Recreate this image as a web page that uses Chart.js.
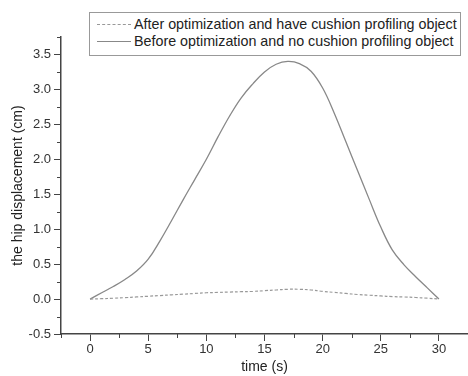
<!DOCTYPE html>
<html>
<head>
<meta charset="utf-8">
<script src="https://cdn.jsdelivr.net/npm/chart.js@4/dist/chart.umd.min.js"></script>
<style>
  html, body { margin: 0; padding: 0; background: #fff; }
  #wrap { position: relative; width: 468px; height: 376px; }
  #legend {
    position: absolute; left: 89px; top: 12px; width: 370px; height: 42px;
    border: 1px solid #999; background: #fff;
    font-family: "Liberation Sans", Arial, sans-serif; font-size: 14.3px; color: #222;
  }
  #legend .row { position: absolute; left: 0; height: 17px; line-height: 17px; white-space: nowrap; }
  #legend .sample { position: absolute; left: 7px; top: 8px; width: 34px; height: 0; }
  #legend .label { position: absolute; left: 44px; top: 0; }
</style>
</head>
<body>
<div id="wrap">
  <canvas id="hip-chart" width="468" height="376"></canvas>
  <div id="legend"></div>
</div>
<script>
// Time axis (s)
const timeValues = [0, 1, 2, 3, 4, 5, 6, 7, 8, 9, 10, 11, 12, 13, 14, 15,
  16, 17, 18, 19, 20, 21, 22, 23, 24, 25, 26, 27, 28, 29, 30];

// Hip displacement (cm)
const afterValues = [0, 0.005, 0.012, 0.02, 0.03, 0.04, 0.05, 0.06, 0.07, 0.08, 0.09,
  0.095, 0.1, 0.105, 0.11, 0.12, 0.13, 0.14, 0.14, 0.13, 0.11,
  0.095, 0.08, 0.065, 0.055, 0.045, 0.035, 0.03, 0.022, 0.012, 0];
const beforeValues = [0, 0.09, 0.18, 0.28, 0.4, 0.57, 0.83, 1.12, 1.42, 1.71, 2.0,
  2.32, 2.62, 2.88, 3.08, 3.25, 3.36, 3.40, 3.37, 3.26, 3.02,
  2.66, 2.25, 1.84, 1.43, 1.03, 0.7, 0.49, 0.32, 0.16, 0];

const seriesLabels = [
  'After optimization and have cushion profiling object',
  'Before optimization and no cushion profiling object'
];

// Tick labels
const xTickValues = [0, 5, 10, 15, 20, 25, 30];
const yTickValues = [-0.5, 0, 0.5, 1, 1.5, 2, 2.5, 3, 3.5];
const xMinorValues = [-2.5, 2.5, 7.5, 12.5, 17.5, 22.5, 27.5, 32.5];
const yMinorValues = [-0.25, 0.25, 0.75, 1.25, 1.75, 2.25, 2.75, 3.25, 3.75];

const fontFamily = '"Liberation Sans", Arial, sans-serif';
const axisColor = '#444';

function toPoints(values) {
  return timeValues.map((t, i) => ({ x: t, y: values[i] }));
}

// Short ticks between the labelled ones
const minorTicks = {
  id: 'minorTicks',
  afterDraw(chart) {
    const ctx = chart.ctx;
    const xs = chart.scales.x, ys = chart.scales.y;
    ctx.save();
    ctx.strokeStyle = axisColor;
    ctx.lineWidth = 1;
    ctx.beginPath();
    xMinorValues.forEach(v => {
      const px = Math.round(xs.getPixelForValue(v)) + 0.5;
      ctx.moveTo(px, xs.top);
      ctx.lineTo(px, xs.top + 4);
    });
    yMinorValues.forEach(v => {
      const py = Math.round(ys.getPixelForValue(v)) + 0.5;
      ctx.moveTo(ys.right, py);
      ctx.lineTo(ys.right - 4, py);
    });
    ctx.stroke();
    ctx.restore();
  }
};

const chart = new Chart('hip-chart', {
  type: 'line',
  data: {
    datasets: [{
      label: seriesLabels[0],
      data: toPoints(afterValues),
      borderColor: '#999',
      borderWidth: 1.2,
      borderDash: [3, 2],
      pointRadius: 0,
      tension: 0.4
    }, {
      label: seriesLabels[1],
      data: toPoints(beforeValues),
      borderColor: '#888',
      borderWidth: 1.3,
      pointRadius: 0,
      tension: 0.4
    }]
  },
  options: {
    responsive: false,
    animation: false,
    layout: { padding: { top: 37, right: 0, left: 0, bottom: 0 } },
    plugins: { legend: { display: false }, tooltip: { enabled: false } },
    scales: {
      x: {
        type: 'linear',
        min: -2.5,
        max: 32.5,
        afterBuildTicks: s => { s.ticks = xTickValues.map(v => ({ value: v })); },
        afterFit: s => { s.height = 42; },
        grid: { drawOnChartArea: false, tickLength: 7, tickColor: axisColor, tickWidth: 1 },
        border: { color: axisColor, width: 1.5 },
        ticks: { color: '#333', padding: 1, maxRotation: 0, font: { family: fontFamily, size: 13 } },
        title: { display: true, text: 'time (s)', color: '#222', padding: { top: 0, bottom: 0 },
          font: { family: fontFamily, size: 14 } }
      },
      y: {
        min: -0.5,
        max: 3.75,
        afterBuildTicks: s => { s.ticks = yTickValues.map(v => ({ value: v })); },
        afterFit: s => { s.width = 61; },
        grid: { drawOnChartArea: false, tickLength: 7, tickColor: axisColor, tickWidth: 1 },
        border: { color: axisColor, width: 1.5 },
        ticks: { color: '#333', padding: 3, font: { family: fontFamily, size: 13 },
          callback: v => v.toFixed(1) },
        title: { display: true, text: 'the hip displacement (cm)', color: '#222',
          padding: { top: 10, bottom: 0 }, font: { family: fontFamily, size: 14 } }
      }
    }
  },
  plugins: [minorTicks]
});

// Legend box drawn over the plot, built from the datasets
const legend = document.getElementById('legend');
chart.data.datasets.forEach((ds, i) => {
  const row = document.createElement('div');
  row.className = 'row';
  row.style.top = (3 + i * 17) + 'px';
  const sample = document.createElement('span');
  sample.className = 'sample';
  sample.style.borderTop = '1px ' + (ds.borderDash ? 'dashed' : 'solid') + ' ' + ds.borderColor;
  const label = document.createElement('span');
  label.className = 'label';
  label.textContent = ds.label;
  row.appendChild(sample);
  row.appendChild(label);
  legend.appendChild(row);
});
</script>
</body>
</html>
